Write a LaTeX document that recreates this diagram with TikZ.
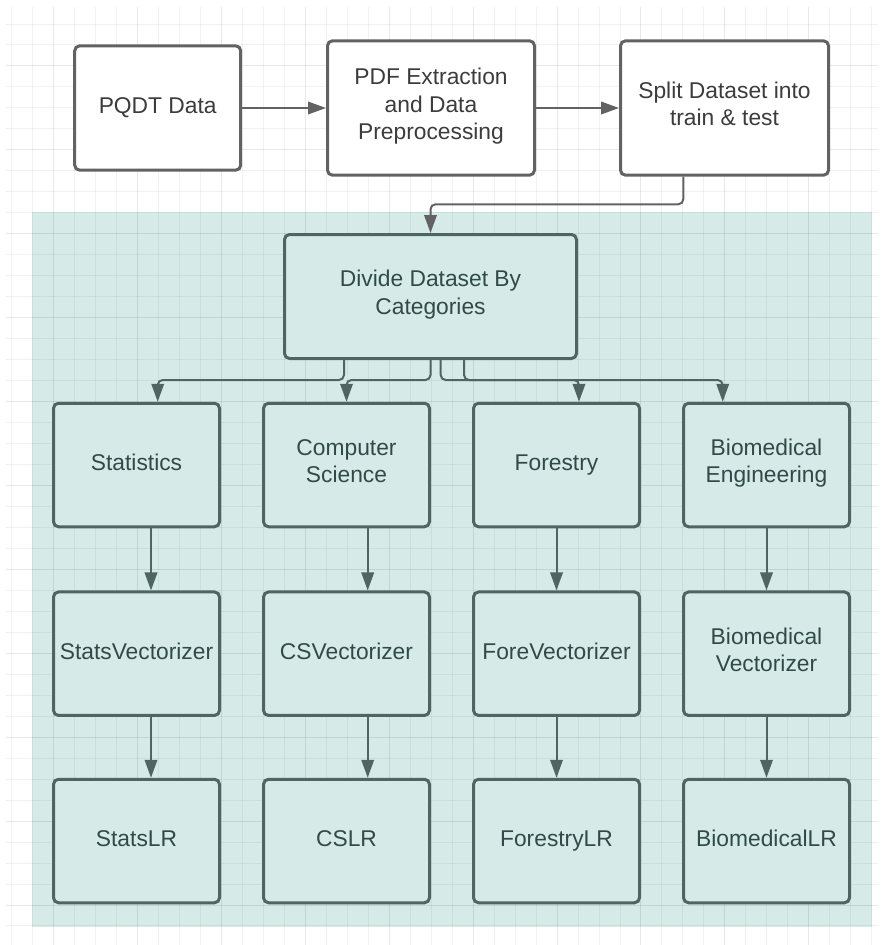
\documentclass[tikz,border=0pt]{standalone}
\usepackage{fontspec}
\setmainfont{Liberation Sans}
\usetikzlibrary{arrows.meta}

\definecolor{panel}{HTML}{D6EBE7}
\definecolor{tealline}{HTML}{4F6561}
\definecolor{tealtext}{HTML}{304B47}
\definecolor{greyline}{HTML}{626262}
\definecolor{greytext}{HTML}{3C3C3C}

\begin{document}
\begin{tikzpicture}[x=1pt,y=-1pt,
  base/.style={rectangle, rounded corners=5pt, line width=3pt,
    minimum width=166pt, minimum height=123.5pt, align=center, inner sep=2pt,
    font=\fontsize{22.8}{27.5}\selectfont,
    execute at begin node=\strut, execute at end node=\strut},
  topbox/.style={base, draw=greyline, fill=white, text=greytext},
  catbox/.style={base, draw=tealline, fill=panel, text=tealtext},
  tip/.style={-{Triangle[length=18pt,width=12.5pt,sharp]}},
  toparr/.style={tip, line width=2pt, draw=greyline},
  arr/.style={tip, line width=2pt, draw=tealline},
  elbow/.style={rounded corners=5pt},
  gridline/.style={draw=black, line width=1pt}
]
\useasboundingbox (0,0) rectangle (883,945);

% shaded panel behind the per-category pipelines
\fill[panel] (32,212.3) rectangle (871.7,926.7);

% background grid, every fourth line stronger
\foreach \k in {0,...,41}{
  \pgfmathtruncatemacro\m{mod(\k,4)}
  \ifnum\m=2 \def\op{0.09}\else\def\op{0.055}\fi
  \draw[gridline, opacity=\op] (11.7+20.976*\k,7) -- (11.7+20.976*\k,945);
}
\foreach \j in {0,...,43}{
  \pgfmathtruncatemacro\m{mod(\j,4)}
  \ifnum\m=2 \def\op{0.09}\else\def\op{0.055}\fi
  \draw[gridline, opacity=\op] (6,24+20.976*\j) -- (878,24+20.976*\j);
}

% preparation stages
\node[topbox, minimum height=124.4pt] (pqdt) at (157.7,108) {PQDT Data};
\node[topbox, minimum width=207pt, minimum height=134.4pt] (pdf) at (431,108) {PDF Extraction\\and Data\\Preprocessing};
\node[topbox, minimum width=208pt, minimum height=134.4pt] (split) at (724.5,108) {Split Dataset into\\train \& test};

\node[catbox, minimum width=292pt, minimum height=124pt] (divide) at (430.5,296.5) {Divide Dataset By\\Categories};

% categories
\node[catbox] (stat) at (136.5,465) {Statistics};
\node[catbox] (cs)   at (346.5,465) {Computer\\Science};
\node[catbox] (fore) at (556.5,465) {Forestry};
\node[catbox] (bio)  at (766.5,465) {Biomedical\\Engineering};

% vectorizers
\node[catbox] (statv) at (136.5,653.7) {StatsVectorizer};
\node[catbox] (csv)   at (346.5,653.7) {CSVectorizer};
\node[catbox] (forev) at (556.5,653.7) {ForeVectorizer};
\node[catbox] (biov)  at (766.5,653.7) {Biomedical\\Vectorizer};

% logistic regression models
\node[catbox] (statlr) at (136.5,841) {StatsLR};
\node[catbox] (cslr)   at (346.5,841) {CSLR};
\node[catbox] (forelr) at (556.5,841) {ForestryLR};
\node[catbox] (biolr)  at (766.5,841) {BiomedicalLR};

% top pipeline
\draw[toparr] (pqdt.east) -- (pqdt.east -| pdf.west);
\draw[toparr] (pdf.east) -- (pdf.east -| split.west);
\draw[toparr] ([xshift=-41.2pt]split.south) [elbow] -- ++(0,27.6) -| (divide.north);

% fan-out to categories
\draw[arr] ([xshift=-86.5pt]divide.south) [elbow] -- ++(0,20) -| ([xshift=21.2pt]stat.north);
\draw[arr] (divide.south) [elbow] -- ++(0,20) -| (cs.north);
\draw[arr] ([xshift=10.2pt]divide.south) [elbow] -- ++(0,20) -| ([xshift=22.5pt]fore.north);
\draw[arr] ([xshift=33.5pt]divide.south) [elbow] -- ++(0,20) -| ([xshift=-43.8pt]bio.north);

% category -> vectorizer -> model
\draw[arr] ([xshift=14.5pt]stat.south) -- ([xshift=14.5pt]statv.north);
\draw[arr] ([xshift=21.2pt]cs.south) -- ([xshift=21.2pt]csv.north);
\draw[arr] (fore.south) -- (forev.north);
\draw[arr] (bio.south) -- (biov.north);

\draw[arr] ([xshift=14.5pt]statv.south) -- ([xshift=14.5pt]statlr.north);
\draw[arr] ([xshift=21.2pt]csv.south) -- ([xshift=21.2pt]cslr.north);
\draw[arr] (forev.south) -- (forelr.north);
\draw[arr] (biov.south) -- (biolr.north);
\end{tikzpicture}
\end{document}
